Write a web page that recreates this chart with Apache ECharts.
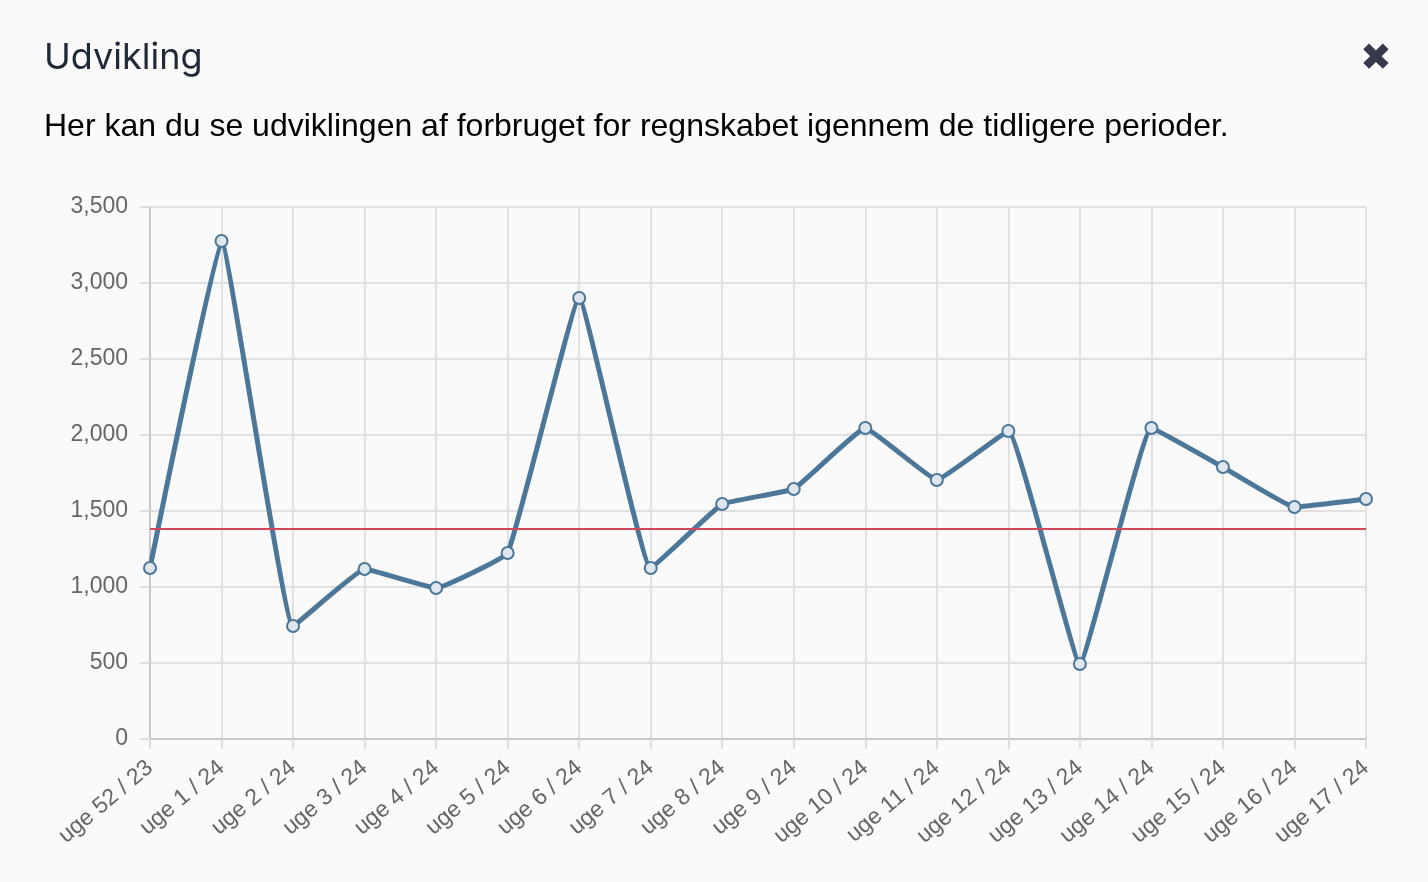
<!DOCTYPE html>
<html lang="da">
<head>
    <meta charset="UTF-8">
    <title>Udvikling</title>
    <style>
        html, body {
            margin: 0;
            padding: 0;
            width: 100%;
            height: 100%;
            background: #fafafa;
        }
        #main {
            width: 1428px;
            height: 882px;
        }
    </style>
    <script type="text/javascript" src="https://cdn.jsdelivr.net/npm/echarts@6/dist/echarts.min.js"></script>
</head>
<body>
<div id="main"></div>
<script type="text/javascript">
    var weeks = ["uge 52 / 23", "uge 1 / 24", "uge 2 / 24", "uge 3 / 24", "uge 4 / 24", "uge 5 / 24",
        "uge 6 / 24", "uge 7 / 24", "uge 8 / 24", "uge 9 / 24", "uge 10 / 24", "uge 11 / 24",
        "uge 12 / 24", "uge 13 / 24", "uge 14 / 24", "uge 15 / 24", "uge 16 / 24", "uge 17 / 24"];
    var usage = [1125, 3276, 743, 1118, 993, 1224, 2901, 1125, 1546, 1645, 2046, 1704, 2026, 493, 2046, 1789, 1526, 1579];
    var referenceLevel = 1382;
    var yMax = 3500;
    var yStep = 500;

    var chart = echarts.init(document.getElementById('main'));
    var option = {
        backgroundColor: '#fafafa',
        animation: false,
        title: [{
            text: 'Udvikling',
            left: 39,
            top: 35,
            textStyle: {
                fontFamily: 'Inter',
                fontWeight: 'normal',
                fontSize: 36,
                color: '#212936'
            }
        }, {
            text: 'Her kan du se udviklingen af forbruget for regnskabet igennem de tidligere perioder.',
            left: 39,
            top: 106,
            textStyle: {
                fontFamily: 'Liberation Sans',
                fontWeight: 'normal',
                fontSize: 32,
                color: '#000000'
            }
        }],
        graphic: [{
            type: 'text',
            left: 1360,
            top: 41,
            style: {
                text: '\u2716',
                fontSize: 38,
                fontFamily: 'DejaVu Sans',
                fill: '#343a4b'
            }
        }],
        grid: {
            left: 150,
            right: 62,
            top: 207,
            bottom: 143,
            containLabel: false,
            outerBoundsMode: 'none'
        },
        xAxis: {
            type: 'category',
            data: weeks,
            boundaryGap: false,
            axisLine: {lineStyle: {color: '#c8c8c8', width: 2}},
            axisTick: {show: true, length: 10, alignWithLabel: true, lineStyle: {color: '#dedede', width: 2}},
            axisLabel: {
                rotate: 40,
                margin: 26,
                fontSize: 23,
                fontFamily: 'Liberation Sans',
                color: '#666666',
                interval: 0
            },
            splitLine: {show: true, lineStyle: {color: '#e0e0e0', width: 2}}
        },
        yAxis: {
            type: 'value',
            min: 0,
            max: yMax,
            interval: yStep,
            axisLine: {show: true, lineStyle: {color: '#c8c8c8', width: 2}},
            axisTick: {show: true, length: 10, lineStyle: {color: '#dedede', width: 2}},
            axisLabel: {
                margin: 22,
                fontSize: 23,
                fontFamily: 'Liberation Sans',
                color: '#666666',
                formatter: function (v) {
                    return v.toLocaleString('en-US');
                }
            },
            splitLine: {show: true, lineStyle: {color: '#e0e0e0', width: 2}}
        },
        series: [{
            name: 'Forbrug',
            type: 'line',
            data: usage,
            smooth: 0.08,
            symbol: 'circle',
            symbolSize: 12,
            lineStyle: {color: '#4c7798', width: 5},
            itemStyle: {color: '#dfe6ee', borderColor: '#4c7798', borderWidth: 2},
            markLine: {
                silent: true,
                symbol: ['none', 'none'],
                label: {show: false},
                lineStyle: {color: '#d0485a', width: 2, type: 'solid'},
                data: [{yAxis: referenceLevel}]
            }
        }]
    };
    chart.setOption(option);
</script>
</body>
</html>
